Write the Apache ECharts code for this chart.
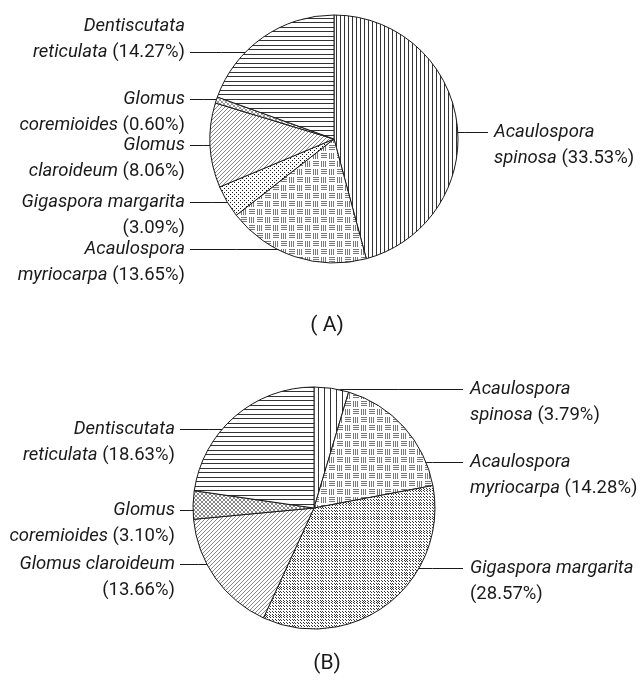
<!DOCTYPE html>
<html>
<head>
<meta charset="utf-8">
<script src="https://cdn.jsdelivr.net/npm/echarts@6/dist/echarts.min.js"></script>
<style>
html, body { margin: 0; padding: 0; background: #fff; }
#main { width: 641px; height: 680px; }
</style>
</head>
<body>
<div id="main"></div>
<script>
// species, clockwise from 12 o'clock
var genus = ['Acaulospora', 'Acaulospora', 'Gigaspora', 'Glomus', 'Glomus', 'Dentiscutata'];
var species = ['spinosa', 'myriocarpa', 'margarita', 'claroideum', 'coremioides', 'reticulata'];
var valuesA = [33.53, 13.65, 3.09, 8.06, 0.60, 14.27];
var valuesB = [3.79, 14.28, 28.57, 13.66, 3.10, 18.63];
var captions = ['( A)', '(B)'];

// label layout: break after genus ('g') or after species ('s')
var breakA = ['g', 'g', 's', 'g', 'g', 'g'];
var breakB = ['g', 'g', 's', 's', 'g', 'g'];
// which text line the leader points at
var leadA = [0, 0, 0, 0, 0, 1];
var leadB = [0, 0, 0, 0, 0, 0];
// leader start inside the slice: [deg clockwise from top, fraction of radius]
var anchorA = [[86, 0.86], [205, 0.98], [237.5, 0.94], [267, 0.94], [288.6, 1.0], [317, 0.96]];
var anchorB = [[9.8, 1.0], [62.4, 0.82], [124.3, 0.88], [240, 0.93], [269, 0.93], [316, 0.91]];

var FONT = 'Roboto';
var FS = 18.5;
var LH = 26;
var INK = '#1a1a1a';

var pies = [
  { values: valuesA, center: [334, 139], r: 124, brk: breakA, lead: leadA, anchor: anchorA,
    leftText: 185, leftLine: 190, rightLine: 488, rightText: 494, caption: [327, 326] },
  { values: valuesB, center: [314, 508], r: 121, brk: breakB, lead: leadB, anchor: anchorB,
    leftText: 175, leftLine: 180, rightLine: 463, rightText: 470, caption: [327, 664] }
];

function makePattern(w, h, draw) {
  var c = document.createElement('canvas');
  c.width = w; c.height = h;
  var ctx = c.getContext('2d');
  ctx.fillStyle = '#fff';
  ctx.fillRect(0, 0, w, h);
  draw(ctx, w, h);
  return { image: c, repeat: 'repeat' };
}

function vlines(step, col) {
  return makePattern(step, 8, function (ctx, w, h) {
    ctx.fillStyle = col; ctx.fillRect(0, 0, 1, h);
  });
}
function hlines(col) {
  return makePattern(8, 9, function (ctx, w, h) {
    ctx.fillStyle = col; ctx.fillRect(0, 0, w, 1); ctx.fillRect(0, 4, w, 1);
  });
}
function blocks(col) {
  return makePattern(16, 16, function (ctx) {
    ctx.fillStyle = col;
    for (var k = 0; k < 3; k++) {
      ctx.fillRect(1 + 2 * k, 1, 1, 6);   // III
      ctx.fillRect(9, 1 + 2 * k, 6, 1);   // ≡
      ctx.fillRect(1, 9 + 2 * k, 6, 1);   // ≡
      ctx.fillRect(9 + 2 * k, 9, 1, 6);   // III
    }
  });
}
function diag(col) {
  return makePattern(4, 4, function (ctx) {
    ctx.fillStyle = col;
    for (var k = 0; k < 4; k++) ctx.fillRect(3 - k, k, 1, 1);
  });
}
function cross(col) {
  return makePattern(4, 4, function (ctx) {
    ctx.fillStyle = col;
    for (var k = 0; k < 4; k++) { ctx.fillRect(k, k, 1, 1); ctx.fillRect(3 - k, k, 1, 1); }
  });
}
function stipple(col, size, mod) {
  return makePattern(size, size, function (ctx) {
    ctx.fillStyle = col;
    for (var y = 0; y < size; y++) {
      for (var x = 0; x < size; x++) {
        if ((x * 7 + y * 13 + x * y) % mod === 0) ctx.fillRect(x, y, 1, 1);
      }
    }
  });
}

var fillsA = [vlines(4, '#333'), blocks('#777'), stipple('#111', 12, 4), diag('#888'), cross('#999'), hlines('#333')];
var fillsB = [vlines(6, '#333'), blocks('#777'), stipple('#333', 14, 3), diag('#888'), cross('#888'), hlines('#333')];

function labelText(i, brk, v) {
  var g = '{i|' + genus[i] + '}', s = '{i|' + species[i] + '}', p = '{n|(' + v.toFixed(2) + '%)}';
  return brk === 'g' ? g + '\n' + s + '{n| }' + p : g + '{n| }' + s + '\n' + p;
}

function buildSeries(P, fills) {
  return {
    type: 'pie',
    silent: true,
    center: P.center,
    radius: [0, P.r],
    startAngle: 90,
    clockwise: true,
    avoidLabelOverlap: false,
    animation: false,
    itemStyle: { borderColor: '#1a1a1a', borderWidth: 1 },
    label: {
      show: true,
      position: 'outside',
      color: INK,
      fontFamily: FONT,
      fontSize: FS,
      lineHeight: LH,
      rich: {
        i: { fontFamily: FONT, fontSize: FS, lineHeight: LH, fontStyle: 'italic', color: INK },
        n: { fontFamily: FONT, fontSize: FS, lineHeight: LH, color: INK }
      }
    },
    labelLine: { show: true, length: 10, length2: 10, lineStyle: { color: '#1a1a1a', width: 1 } },
    labelLayout: function (params) {
      var k = params.dataIndex;
      var a = P.anchor[k][0] * Math.PI / 180, f = P.anchor[k][1];
      var ax = P.center[0] + f * P.r * Math.sin(a);
      var ay = Math.round(P.center[1] - f * P.r * Math.cos(a)) + 0.5;
      var right = ax > P.center[0];
      var ex = right ? P.rightLine : P.leftLine;
      var first = P.lead[k] === 0;
      return {
        x: right ? P.rightText : P.leftText,
        y: first ? ay - LH / 2 : ay + LH / 2,
        align: right ? 'left' : 'right',
        verticalAlign: first ? 'top' : 'bottom',
        labelLinePoints: [[ax, ay], [(ax + ex) / 2, ay], [ex, ay]]
      };
    },
    data: P.values.map(function (v, i) {
      return {
        name: genus[i] + ' ' + species[i],
        value: v,
        itemStyle: { color: fills[i] },
        label: { formatter: labelText(i, P.brk[i], v) }
      };
    })
  };
}

var chart = echarts.init(document.getElementById('main'), null, { renderer: 'canvas' });
chart.setOption({
  backgroundColor: '#fff',
  animation: false,
  graphic: pies.map(function (P, j) {
    return {
      type: 'text',
      x: P.caption[0],
      y: P.caption[1],
      style: { text: captions[j], align: 'center', verticalAlign: 'middle',
               font: '21px ' + FONT, fill: INK }
    };
  }),
  series: [buildSeries(pies[0], fillsA), buildSeries(pies[1], fillsB)]
});
</script>
</body>
</html>
